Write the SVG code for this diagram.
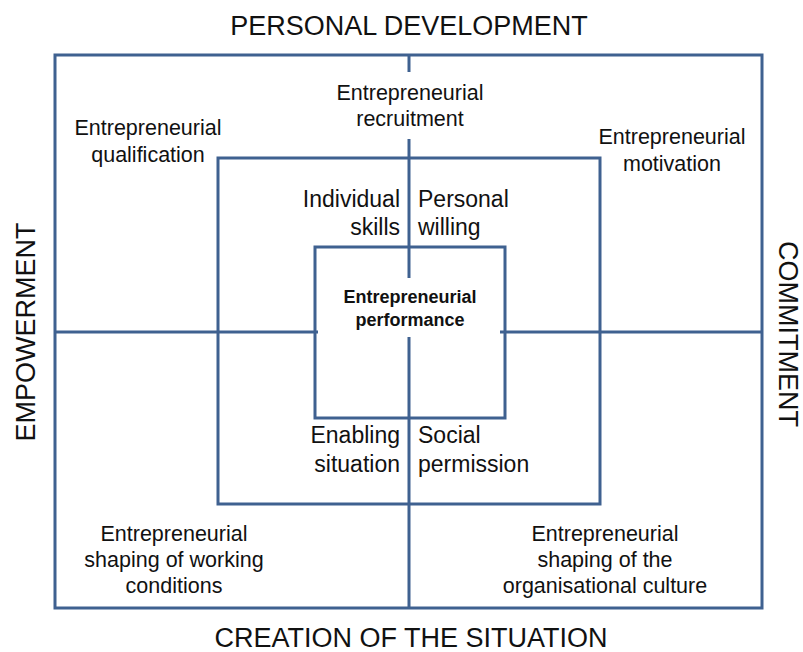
<svg xmlns="http://www.w3.org/2000/svg" width="803" height="652" viewBox="0 0 803 652">
<style>
.ln{stroke:#3F6190;stroke-width:3;fill:none}
text{font-family:"Liberation Sans",Arial,sans-serif;fill:#111}
.big{font-size:27px}
.q{font-size:21.5px;text-anchor:middle}
.in{font-size:23px}
.b{font-size:18px;font-weight:bold;text-anchor:middle}
</style>
<rect width="803" height="652" fill="#fff"/>
<g id="connectors">
<rect class="ln" x="55" y="55" width="707" height="553"/>
<rect class="ln" x="218" y="158" width="382" height="346"/>
<rect class="ln" x="315" y="247" width="190" height="171"/>
<line class="ln" x1="409" y1="55" x2="409" y2="72"/>
<line class="ln" x1="409" y1="139" x2="409" y2="278"/>
<line class="ln" x1="409" y1="337" x2="409" y2="608"/>
<line class="ln" x1="55" y1="332" x2="318" y2="332"/>
<line class="ln" x1="500" y1="332" x2="762" y2="332"/>
</g>
<g id="axis-top"><text class="big" x="409" y="35" text-anchor="middle">PERSONAL DEVELOPMENT</text></g>
<g id="axis-bottom"><text class="big" x="411" y="647" text-anchor="middle">CREATION OF THE SITUATION</text></g>
<g id="axis-left"><text class="big" transform="translate(35,332) rotate(-90)" text-anchor="middle">EMPOWERMENT</text></g>
<g id="axis-right"><text class="big" transform="translate(779,334) rotate(90)" text-anchor="middle">COMMITMENT</text></g>
<g id="recruitment"><text class="q" x="410" y="100">Entrepreneurial</text><text class="q" x="410" y="126">recruitment</text></g>
<g id="qualification"><text class="q" x="148" y="135">Entrepreneurial</text><text class="q" x="148" y="162">qualification</text></g>
<g id="motivation"><text class="q" x="672" y="144">Entrepreneurial</text><text class="q" x="672" y="171">motivation</text></g>
<g id="working-conditions"><text class="q" x="174" y="541">Entrepreneurial</text><text class="q" x="174" y="567">shaping of working</text><text class="q" x="174" y="593">conditions</text></g>
<g id="org-culture"><text class="q" x="605" y="541">Entrepreneurial</text><text class="q" x="605" y="567">shaping of the</text><text class="q" x="605" y="593">organisational culture</text></g>
<g id="individual-skills"><text class="in" x="400" y="207" text-anchor="end">Individual</text><text class="in" x="400" y="235" text-anchor="end">skills</text></g>
<g id="personal-willing"><text class="in" x="418" y="207">Personal</text><text class="in" x="418" y="235">willing</text></g>
<g id="enabling-situation"><text class="in" x="400" y="443" text-anchor="end">Enabling</text><text class="in" x="400" y="472" text-anchor="end">situation</text></g>
<g id="social-permission"><text class="in" x="418" y="443">Social</text><text class="in" x="418" y="472">permission</text></g>
<g id="performance"><text class="b" x="410" y="303">Entrepreneurial</text><text class="b" x="410" y="326">performance</text></g>
</svg>
